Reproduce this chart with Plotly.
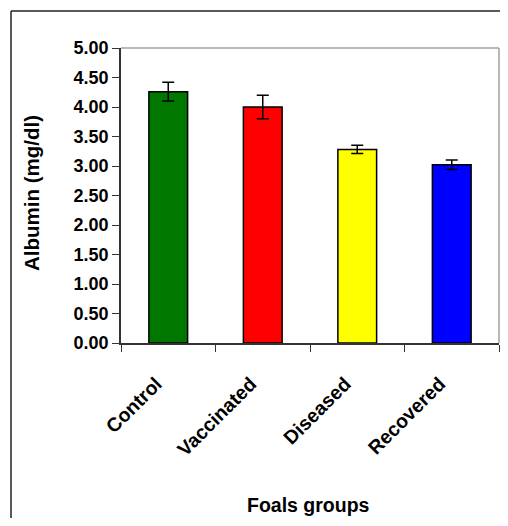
import plotly.graph_objects as go

groups = ["Control", "Vaccinated", "Diseased", "Recovered"]
albumin = [4.26, 4.00, 3.28, 3.02]
sem = [0.16, 0.20, 0.07, 0.08]
colors = ["#007800", "#ff0000", "#ffff00", "#0000ff"]
y_ticks = [0, 0.5, 1, 1.5, 2, 2.5, 3, 3.5, 4, 4.5, 5]

# page body has an 8px margin; figure sized to fit the 508x526 window
OFF = 8
W, H = 508 - 2 * OFF, 526 - 2 * OFF
L, R, T, B = 121 - OFF, 1, 48 - OFF, H - (343 - OFF)
pw = W - L - R
ph = H - T - B

def px(x):
    return (x - OFF - L) / pw

def py(y):
    return 1 - (y - OFF - T) / ph

fig = go.Figure(go.Bar(
    x=groups, y=albumin,
    marker=dict(color=colors, line=dict(color="black", width=1.5)),
    width=0.41,
    error_y=dict(type="data", array=sem, visible=True, color="black",
                 thickness=1.5, width=6),
))

font_b = "Liberation Sans, Arial, sans-serif"

fig.update_layout(
    width=W, height=H,
    margin=dict(l=L, r=R, t=T, b=B, autoexpand=False),
    plot_bgcolor="white", paper_bgcolor="white",
    showlegend=False,
    font=dict(family=font_b, color="black"),
    xaxis=dict(
        type="category", automargin=False,
        tickson="boundaries", ticks="outside", ticklen=7, tickcolor="#333",
        tickwidth=1,
        showline=True, linecolor="#333", linewidth=1.5,
        tickangle=-45, ticklabelstandoff=20, ticklabelshift=-12,
        tickfont=dict(family=font_b, size=19.5, color="black", weight="bold"),
        showgrid=False,
    ),
    yaxis=dict(
        range=[0, 5], tickvals=y_ticks, tickformat=".2f", automargin=False,
        ticks="outside", ticklen=7, tickcolor="#333", tickwidth=1,
        showline=True, linecolor="#333", linewidth=1.5,
        showgrid=False, zeroline=False,
        tickfont=dict(family=font_b, size=18, color="black", weight="bold"),
    ),
    annotations=[
        dict(text="<b>Foals groups</b>", xref="paper", yref="paper",
             x=px(308), y=py(505), showarrow=False, xanchor="center", yanchor="middle",
             font=dict(family=font_b, size=19.5, color="black")),
        dict(text="<b>Albumin (mg/dl)</b>", xref="paper", yref="paper",
             x=px(31), y=py(193), showarrow=False, xanchor="center", yanchor="middle",
             textangle=-90,
             font=dict(family=font_b, size=20.5, color="black")),
    ],
    shapes=[
        dict(type="line", xref="paper", yref="paper", x0=0, x1=1, y0=1, y1=1,
             line=dict(color="#a0a0a0", width=1.5)),
        dict(type="line", xref="paper", yref="paper", x0=1, x1=1, y0=0, y1=1,
             line=dict(color="#a0a0a0", width=1.5)),
        dict(type="line", xref="paper", yref="paper", x0=px(11), x1=px(11),
             y0=py(11), y1=py(540), line=dict(color="#222", width=1.5)),
        dict(type="line", xref="paper", yref="paper", x0=px(11), x1=px(520),
             y0=py(11), y1=py(11), line=dict(color="#222", width=1.5)),
    ],
)

fig.write_html("out.html")
